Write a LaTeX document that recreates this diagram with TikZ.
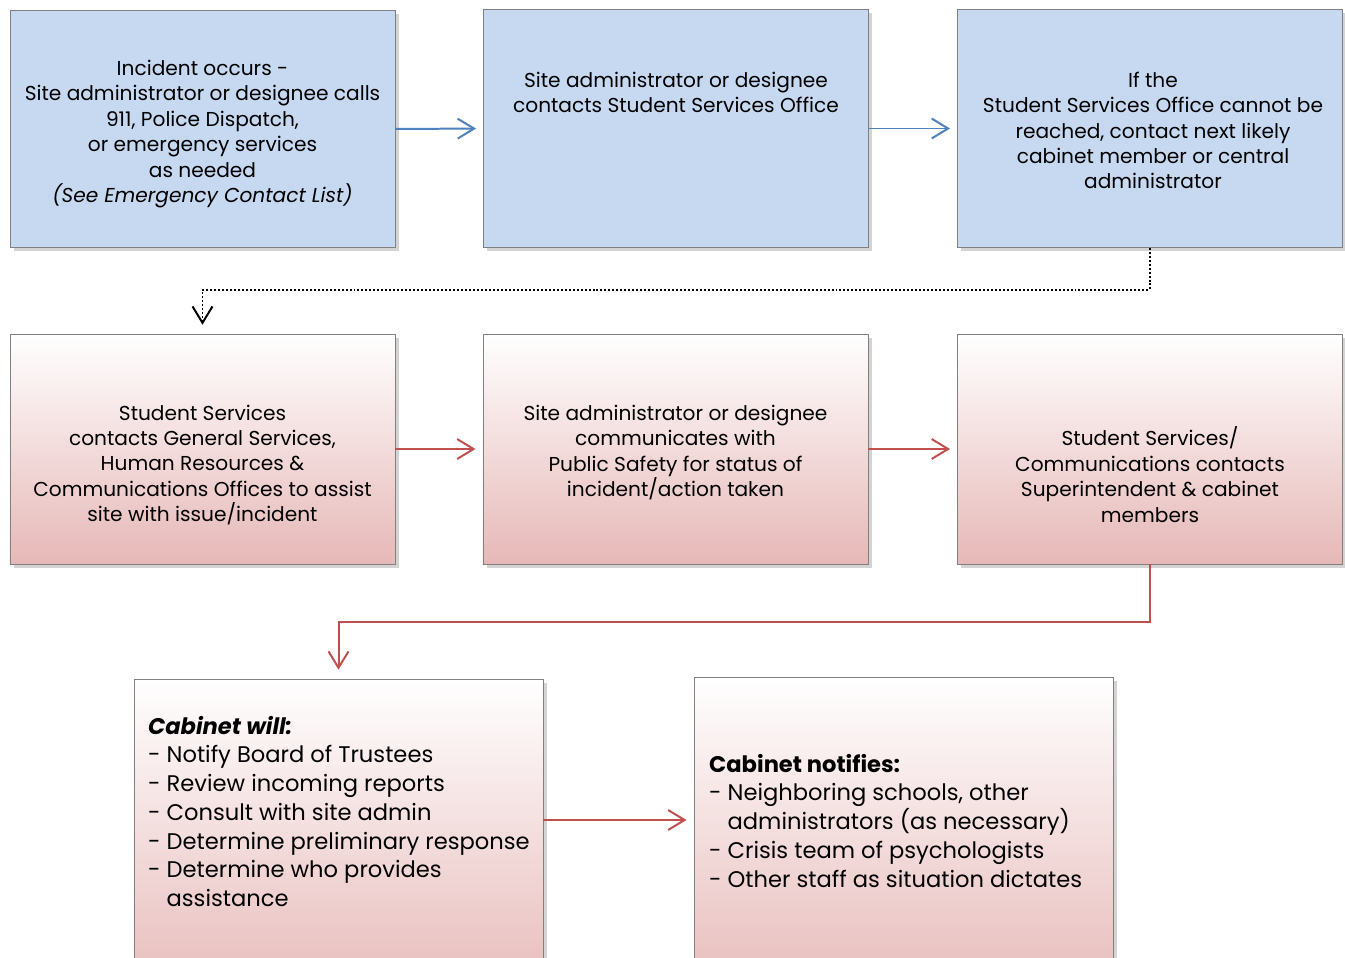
\documentclass[tikz,border=0pt]{standalone}
\usepackage{fontspec}
\setmainfont{Poppins}
\usetikzlibrary{arrows.meta,shadows}
\definecolor{boxblue}{RGB}{198,217,241}
\definecolor{boxpink}{RGB}{230,184,183}
\definecolor{lineblue}{RGB}{79,129,189}
\definecolor{linered}{RGB}{192,80,77}
\definecolor{boxedge}{RGB}{128,128,128}
\tikzset{
    box/.style={draw=boxedge, line width=0.8pt, inner sep=0pt,
        drop shadow={shadow xshift=3pt, shadow yshift=-3pt, opacity=0.35}},
    bluebox/.style={box, fill=boxblue, minimum width=11.55cm, minimum height=7.12cm},
    pinkbox/.style={box, top color=white, bottom color=boxpink, minimum width=11.55cm, minimum height=6.9cm},
    boxtext/.style={align=center, font=\fontsize{17.2}{21.7}\selectfont},
    listtext/.style={align=left, anchor=north west, font=\fontsize{19.3}{24.5}\selectfont},
    tipb/.style={-{Straight Barb[length=14pt, width=17pt]}, line width=1.7pt, shorten >=6pt},
    bluearrow/.style={tipb, draw=lineblue},
    redarrow/.style={tipb, draw=linered},
    dotconn/.style={tipb, draw=black, dash pattern=on 1.7pt off 1.7pt, shorten >=7.5pt},
}
\begin{document}
\begin{tikzpicture}[x=0.03cm, y=-0.03cm]
        \useasboundingbox (0,0) rectangle (1345,958);
        \clip (0,0) rectangle (1345,958);
        \node[bluebox] (incident) at (202.5,129) {};
        \node[bluebox] (contactsso) at (676,128.5) {};
        \node[bluebox] (nextcabinet) at (1150,128.5) {};
        \node[boxtext] (incidenttxt) at (202.5,134) {Incident occurs -\\Site administrator or designee calls\\911, Police Dispatch,\\or emergency services\\as needed\\\textit{(See Emergency Contact List)}};
        \node[boxtext] (contactssotxt) at (676,92.5) {Site administrator or designee\\contacts Student Services Office};
        \node[boxtext] (nextcabinettxt) at (1153,130.5) {If the\\Student Services Office cannot be\\reached, contact next likely\\cabinet member or central\\administrator};
        \node[pinkbox] (generalsvcs) at (202.5,449) {};
        \node[pinkbox] (publicsafety) at (675.5,449) {};
        \node[pinkbox] (commsupt) at (1150,449) {};
        \node[boxtext] (generalsvcstxt) at (202.5,465) {Student Services\\contacts General Services,\\Human Resources \&\\Communications Offices to assist\\site with issue/incident};
        \node[boxtext] (publicsafetytxt) at (675.5,452.5) {Site administrator or designee\\communicates with\\Public Safety for status of\\incident/action taken};
        \node[boxtext] (commsupttxt) at (1150,474.5) {Student Services/\\Communications contacts\\Superintendent \& cabinet\\members};
        \node[box, top color=white, bottom color=boxpink, minimum width=12.27cm, minimum height=9.93cm] (cabinetwill) at (338.5,844.5) {};
        \node[box, top color=white, bottom color=boxpink, minimum width=12.57cm, minimum height=9.99cm] (cabinetnotifies) at (903.5,843.5) {};
        \node[listtext] (cabinetwilltxt) at (144,712) {\textbf{\textit{Cabinet will:}}\\- Notify Board of Trustees\\- Review incoming reports\\- Consult with site admin\\- Determine preliminary response\\- Determine who provides\\\hphantom{- }assistance};
        \node[listtext] (cabinetnotifiestxt) at (705,750) {\textbf{Cabinet notifies:}\\- Neighboring schools, other\\\hphantom{- }administrators (as necessary)\\- Crisis team of psychologists\\- Other staff as situation dictates};
        \draw[bluearrow] (incident.east) -- (contactsso.west);
        \draw[bluearrow] (contactsso.east) -- (nextcabinet.west);
        \draw[dotconn] (nextcabinet.south) -- ++(0,42) -| (generalsvcs.north);
        \draw[redarrow] (generalsvcs.east) -- (publicsafety.west);
        \draw[redarrow] (publicsafety.east) -- (commsupt.west);
        \draw[redarrow, shorten >=7.5pt] (commsupt.south) -- ++(0,58) -| (cabinetwill.north);
        \draw[redarrow] (cabinetwill.east |- 0,820) -- (cabinetnotifies.west |- 0,820);
\end{tikzpicture}
\end{document}
